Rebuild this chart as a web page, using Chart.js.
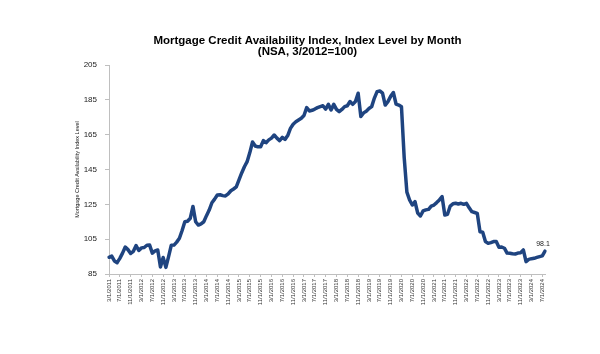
<!DOCTYPE html>
<html lang="en">
<head>
<meta charset="UTF-8">
<title>Mortgage Credit Availability Index</title>
<style>
    body {
        margin: 0;
        background-color: white;
    }
    #chartcc {
        width: 600px;
        height: 354px;
    }
</style>
</head>
<body>
<div id="chartcc">
    <canvas id="mcai-chart" width="600" height="354"></canvas>
</div>
<script src="https://cdn.jsdelivr.net/npm/chart.js"></script>
<script>
    // monthly index values, 3/2011 .. 8/2024
    const mcai2011 = [94.6, 95.3, 92.5, 91.5, 94, 97, 100.5, 99, 96.8, 98];
    const mcai2012 = [101.3, 98.5, 100, 100.2, 101.5, 101.6, 97, 98.3, 98.8, 89, 94.5, 88.8];
    const mcai2013 = [95, 101.5, 101.6, 103.3, 105.5, 110, 115, 115.3, 117, 123.8, 115, 113.1];
    const mcai2014 = [113.8, 115, 118.5, 121.7, 125.9, 128, 130.4, 130.5, 130, 129.8, 131, 132.8];
    const mcai2015 = [133.8, 135, 139, 143, 146.6, 149.5, 154.7, 160.8, 158.5, 158, 158.1, 161.6];
    const mcai2016 = [160.4, 162, 163, 164.8, 163, 161.6, 163.5, 162.3, 164.5, 168.6, 171, 172.4];
    const mcai2017 = [173.4, 174.4, 176, 180.5, 178.6, 179, 179.7, 180.5, 181.1, 181.6, 179.7, 182.4];
    const mcai2018 = [179.2, 182.4, 179.5, 178.2, 179.5, 181.1, 181.6, 184, 182.4, 184, 188.8, 175.4];
    const mcai2019 = [177.5, 178.5, 180, 181.1, 186, 189.7, 190.1, 188.8, 182, 184, 187, 189.2];
    const mcai2020 = [182.6, 182, 181, 152, 132, 127.5, 124.6, 126.5, 120, 118.3, 121.2, 121.8];
    const mcai2021 = [122.1, 124, 124.6, 126, 127.5, 129.4, 118.9, 119.3, 124, 125.3, 125.6, 125.2];
    const mcai2022 = [125.6, 125, 125.6, 123, 120.8, 120.3, 119.8, 109.3, 109, 103.6, 102.6, 103];
    const mcai2023 = [103.6, 103.6, 100.3, 100.5, 99.8, 97, 96.9, 96.6, 96.5, 97, 97.2, 98.8];
    const mcai2024 = [92.1, 93.4, 93.8, 94, 94.5, 95, 95.4, 98.1];

    const values = [].concat(mcai2011, mcai2012, mcai2013, mcai2014, mcai2015, mcai2016, mcai2017,
        mcai2018, mcai2019, mcai2020, mcai2021, mcai2022, mcai2023, mcai2024);

    // month labels m/1/yyyy starting 3/1/2011
    const months = [];
    for (let i = 0; i < values.length; i++) {
        const m = (2 + i) % 12 + 1;
        const y = 2011 + Math.floor((2 + i) / 12);
        months.push(m + '/1/' + y);
    }

    const yTicks = [85, 105, 125, 145, 165, 185, 205];
    const titleLines = ['Mortgage Credit Availability Index, Index Level by Month', '(NSA, 3/2012=100)'];
    const yTitle = 'Mortgage Credit Availability Index Level';

    const lastValueLabel = {
        id: 'lastValueLabel',
        afterDatasetsDraw(chart) {
            const meta = chart.getDatasetMeta(0);
            const pt = meta.data[meta.data.length - 1];
            const c = chart.ctx;
            c.save();
            c.font = '7px Arial, "Liberation Sans", sans-serif';
            c.fillStyle = '#222';
            c.textAlign = 'center';
            c.textBaseline = 'bottom';
            c.fillText(values[values.length - 1].toFixed(1), pt.x - 2, pt.y - 4);
            c.restore();
        }
    };

    const ctx = document.getElementById('mcai-chart').getContext('2d');
    new Chart(ctx, {
        type: 'line',
        data: {
            labels: months,
            datasets: [{
                data: values,
                borderColor: '#1f4480',
                borderWidth: 3.5,
                pointRadius: 0,
                tension: 0,
                borderJoinStyle: 'round',
                borderCapStyle: 'round',
                fill: false
            }]
        },
        options: {
            responsive: false,
            animation: false,
            layout: { padding: { left: 70, right: 55, top: 0, bottom: 0 } },
            plugins: {
                legend: { display: false },
                tooltip: { enabled: false },
                title: {
                    display: true,
                    text: titleLines,
                    color: '#000',
                    font: { family: 'Arial, "Liberation Sans", sans-serif', size: 11.5, weight: 'bold', lineHeight: 1.0 },
                    padding: { top: 35, bottom: 7 }
                }
            },
            scales: {
                x: {
                    type: 'category',
                    offset: false,
                    afterBuildTicks: (scale) => {
                        scale.ticks = scale.ticks.filter((t, i) => i % 4 === 0);
                    },
                    afterFit: (scale) => { scale.height = 80; },
                    ticks: {
                        autoSkip: false,
                        maxRotation: 90,
                        minRotation: 90,
                        padding: 2,
                        color: '#333',
                        font: { family: 'Arial, "Liberation Sans", sans-serif', size: 6 },
                        callback: function (v) { return this.getLabelForValue(v); }
                    },
                    grid: { drawOnChartArea: false, drawTicks: true, tickLength: 3, color: '#bfbfbf' },
                    border: { color: '#bfbfbf', width: 1 }
                },
                y: {
                    min: 85,
                    max: 205,
                    afterBuildTicks: (scale) => {
                        scale.ticks = yTicks.map(v => ({ value: v }));
                    },
                    afterFit: (scale) => { scale.width = 39; },
                    ticks: {
                        padding: 8,
                        color: '#222',
                        font: { family: 'Arial, "Liberation Sans", sans-serif', size: 8 }
                    },
                    title: {
                        display: true,
                        text: yTitle,
                        color: '#222',
                        padding: { top: 4, bottom: 0 },
                        font: { family: 'Arial, "Liberation Sans", sans-serif', size: 5.5 }
                    },
                    grid: { drawOnChartArea: false, drawTicks: true, tickLength: 4, color: '#bfbfbf' },
                    border: { color: '#bfbfbf', width: 1 }
                }
            }
        },
        plugins: [lastValueLabel]
    });
</script>
</body>
</html>
